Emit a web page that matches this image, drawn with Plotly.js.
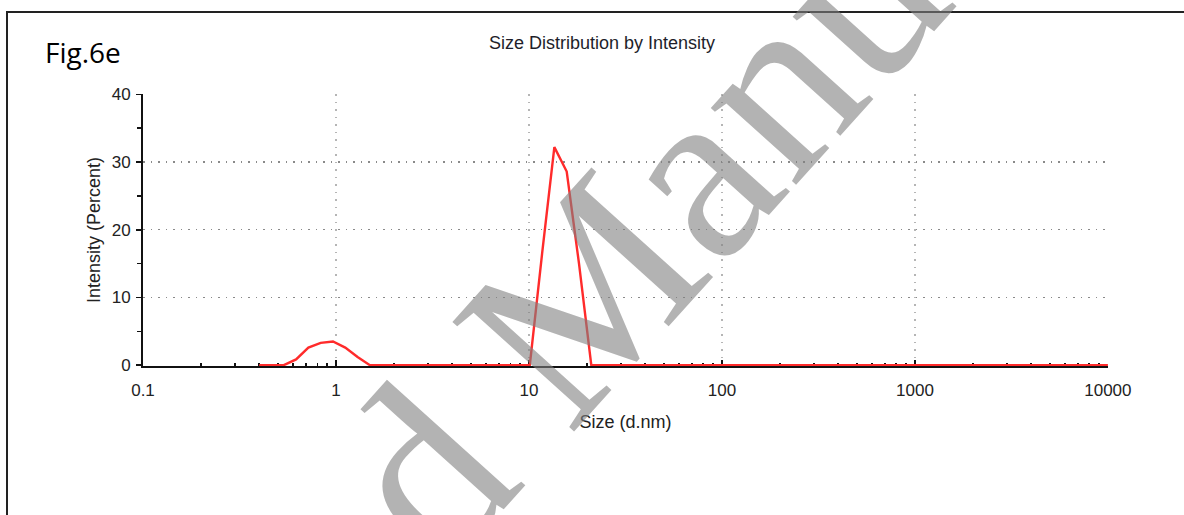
<!DOCTYPE html>
<html>
<head>
<meta charset="utf-8">
<script src="https://cdn.plot.ly/plotly-3.0.1.min.js"></script>
<style>
html, body { margin: 0; padding: 0; background: #ffffff; }
#chart { width: 1184px; height: 515px; }
</style>
</head>
<body>
<div id="chart"></div>
<script>
// Size bins (d.nm) of the instrument
const sizes = [0.4, 0.4632, 0.5365, 0.6213, 0.7195, 0.8332, 0.9649, 1.117, 1.294, 1.499,
  1.736, 2.010, 2.328, 2.696, 3.122, 3.615, 4.187, 4.849, 5.615, 6.503,
  7.531, 8.721, 10.10, 11.70, 13.54, 15.69, 18.17, 21.04, 24.36, 28.21,
  32.67, 37.84, 43.82, 50.75, 58.77, 68.06, 78.82, 91.28, 105.7, 122.4,
  141.8, 164.2, 190.1, 220.2, 255.0, 295.3, 342.0, 396.1, 458.7, 531.2,
  615.1, 712.4, 825.0, 955.4, 1106, 1281, 1484, 1718, 1990, 2305,
  2669, 3091, 3580, 4145, 4801, 5560, 6439, 7456, 8635, 10000];
// Intensity (Percent)
const intensity = [0, 0, 0, 0.85, 2.6, 3.3, 3.5, 2.6, 1.2, 0,
  0, 0, 0, 0, 0, 0, 0, 0, 0, 0,
  0, 0, 0, 16.5, 32.2, 28.6, 15.0, 0, 0, 0,
  0, 0, 0, 0, 0, 0, 0, 0, 0, 0,
  0, 0, 0, 0, 0, 0, 0, 0, 0, 0,
  0, 0, 0, 0, 0, 0, 0, 0, 0, 0,
  0, 0, 0, 0, 0, 0, 0, 0, 0, 0];

const xTickVals = [0.1, 1, 10, 100, 1000, 10000];
const xTickText = ['0.1', '1', '10', '100', '1000', '10000'];
const yTickVals = [0, 10, 20, 30, 40];

const chartTitle = 'Size Distribution by Intensity';
const xTitle = 'Size (d.nm)';
const yTitle = 'Intensity (Percent)';
const figLabel = 'Fig.6e';
const watermark = 'Accepted Manuscript';

const trace = {
  type: 'scatter',
  mode: 'lines',
  x: sizes,
  y: intensity,
  line: { color: '#ff2b2b', width: 2.4 },
  hoverinfo: 'x+y'
};

const axisFont = { family: 'Liberation Sans, Arial, sans-serif', size: 17, color: '#222' };

const layout = {
  width: 1184,
  height: 515,
  margin: { l: 143, r: 76, t: 94, b: 149 },
  paper_bgcolor: '#ffffff',
  plot_bgcolor: '#ffffff',
  showlegend: false,
  font: { family: 'Liberation Sans, Arial, sans-serif', color: '#222' },
  title: {
    text: chartTitle,
    font: { family: 'Liberation Sans, Arial, sans-serif', size: 18, color: '#1e1e2a' },
    xref: 'container', yref: 'container',
    x: 602 / 1184, y: 1 - 43 / 515,
    xanchor: 'center', yanchor: 'middle'
  },
  xaxis: {
    type: 'log',
    range: [-1, 4.0005],
    tickmode: 'array',
    tickvals: xTickVals,
    ticktext: xTickText,
    ticks: 'inside',
    ticklen: 6,
    tickwidth: 1.5,
    tickcolor: '#111',
    showline: true,
    linecolor: '#111',
    linewidth: 2,
    layer: 'below traces',
    showgrid: true,
    gridcolor: '#b5b5b5',
    griddash: '1.5px,6px',
    gridwidth: 1.2,
    zeroline: false,
    tickfont: axisFont,
    ticklabelstandoff: 8,
    minor: { ticks: 'inside', ticklen: 3, tickwidth: 1.5, tickcolor: '#111', dtick: 'D1', showgrid: false },
    title: { text: xTitle, font: { family: 'Liberation Sans, Arial, sans-serif', size: 18, color: '#222' }, standoff: 16 }
  },
  yaxis: {
    range: [-0.12, 40.05],
    tickmode: 'array',
    tickvals: yTickVals,
    ticks: 'outside',
    ticklen: 5,
    tickwidth: 1.5,
    tickcolor: '#111',
    showline: true,
    linecolor: '#111',
    linewidth: 2,
    showgrid: true,
    gridcolor: '#8a8a8a',
    griddash: '1.5px,6px',
    gridwidth: 1.2,
    zeroline: false,
    tickfont: axisFont,
    ticklabelstandoff: 2,
    minor: { ticks: 'outside', ticklen: 4, tickwidth: 1.5, tickcolor: '#111', dtick: 5, showgrid: false },
    title: { text: yTitle, font: { family: 'Liberation Sans, Arial, sans-serif', size: 18, color: '#222' }, standoff: 6 }
  },
  shapes: [
    {
      type: 'rect', xref: 'paper', yref: 'paper',
      x0: (7 - 143) / 965, x1: 1.2,
      y0: -0.8, y1: 1 + (94 - 12) / 272,
      line: { color: '#222', width: 2 },
      fillcolor: 'rgba(0,0,0,0)',
      layer: 'above'
    }
  ],
  annotations: [
    {
      text: figLabel,
      xref: 'paper', yref: 'paper',
      x: (43 - 143) / 965, y: 1 + (94 - 52) / 272,
      xanchor: 'left', yanchor: 'middle',
      showarrow: false,
      font: { family: 'Open Sans, sans-serif', size: 28, color: '#000' }
    },
    {
      text: watermark,
      xref: 'paper', yref: 'paper',
      x: (550 - 143) / 965, y: (366 - 331) / 272,
      xanchor: 'center', yanchor: 'middle',
      showarrow: false,
      textangle: -48,
      font: { family: 'Liberation Serif, Times New Roman, serif', size: 250, color: 'rgba(128,128,128,0.6)' }
    }
  ]
};

Plotly.newPlot('chart', [trace], layout, { displayModeBar: false, staticPlot: true });
</script>
</body>
</html>
